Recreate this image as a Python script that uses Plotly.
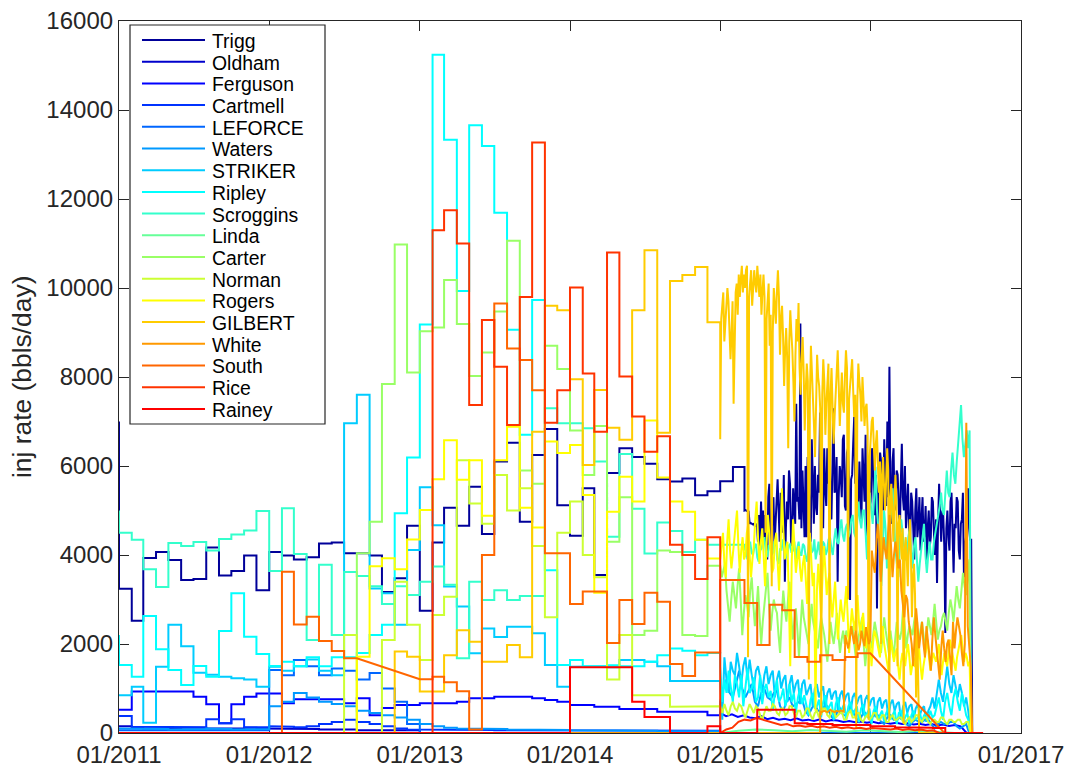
import pandas as pd
import plotly.graph_objects as go

# ---------------- data (bbls/day) ----------------
NAMES = ["Trigg", "Oldham", "Ferguson", "Cartmell", "LEFORCE", "Waters", "STRIKER",
         "Ripley", "Scroggins", "Linda", "Carter", "Norman", "Rogers", "GILBERT",
         "White", "South", "Rice", "Rainey"]

TRIGG_FIRST = 7000
TRIGG_M = [3240, 2520, 3930, 4070, 3890, 3440, 3460, 4170, 3540, 3640, 3990, 3210,
           4070, 3990, 3900, 3950, 4260, 4280, 4040, 4040, 3990, 3170, 3480, 4660,
           2750, 4280, 5060, 4660, 5535, 4470, 6100, 6520, 4750, 6250, 6830, 5120,
           4430, 5500, 3550, 5840, 6400, 6200, 6050, 5700, 5650, 5720, 5340, 5430,
           5660, 5980]
TRIGG_D = [5000, 5010, 4990, 5000, 4980, 4700, 4720, 4700, 4690, 4700, 4650, 4660, 4700, 4300, 4900, 4200, 5200, 4400, 5000, 4300,
           4900, 4100, 3900, 5300, 5600, 4400, 4100, 5000, 5300, 4200, 4600, 5200, 5700, 4600, 4300, 5400, 5000, 4500, 5800, 3400,
           4600, 5200, 4800, 5900, 5600, 4300, 4200, 5500, 5100, 4700, 7400, 5200, 5300, 4800, 9200, 4600, 5900, 5100, 4400, 6000,
           4400, 6200, 5300, 5000, 4300, 6600, 5700, 4700, 6000, 5100, 4900, 5800, 5400, 7200, 5200, 5600, 4600, 6400, 5500, 5100,
           6400, 5600, 6900, 5200, 4800, 6100, 7300, 5400, 5500, 6200, 3400, 5300, 6000, 5800, 5300, 6600, 6700, 5100, 5000, 6300,
           6400, 5500, 2990, 5700, 5800, 6500, 7100, 5600, 6300, 5200, 4900, 6100, 5600, 4800, 6400, 5900, 5200, 6700, 4300, 5600,
           6000, 5100, 5200, 6400, 6300, 5000, 4900, 5800, 2800, 5400, 5700, 6300, 6100, 5200, 5000, 6600, 5600, 5100, 7000, 5300,
           8230, 5200, 4700, 6100, 6400, 5000, 5200, 5900, 5800, 4700, 4400, 5600, 6500, 5300, 5000, 6000, 4600, 5100, 5600, 4500,
           4300, 5400, 5200, 4600, 3900, 5000, 5500, 4400, 4700, 5300, 4100, 4800, 5300, 4300, 4500, 5100, 3800, 4600, 5000, 4200,
           4400, 5300, 5200, 4500, 4000, 4800, 3370, 4700, 5600, 4900, 4300, 5000, 4900, 4200, 2250, 4600, 5000, 4400, 4100, 5200,
           5400, 4500, 3600, 4700, 4600, 5300, 5200, 4100, 3900, 4700, 4800, 5400, 3500, 4200, 4400, 5000, 5500, 4600, 4340, 4340,
           0]

OLDHAM_M = [150, 120, 100, 100, 100, 120, 120, 100, 100, 100, 120, 100,
            100, 100, 90, 90, 80, 80, 80, 60, 60, 60, 60, 60]

FERGUSON_M = [520, 930, 930, 930, 930, 930, 815, 645, 218, 645, 815, 890,
              890, 670, 760, 760, 760, 760, 670, 780, 400, 560, 630, 630,
              670, 670, 670, 700, 780, 780, 815, 815, 815, 780, 740, 700,
              630, 630, 590, 590, 540, 540, 540, 480, 480, 480, 480, 400]
FERGUSON_D = [450, 380, 420, 360, 400, 350, 330, 380, 310, 340, 300, 320, 290, 330, 280,
              300, 270, 310, 260, 290, 280, 250, 270, 240, 260, 230, 250, 220, 240, 210,
              230, 200, 220, 190, 210, 180, 200, 170, 190, 160, 180, 150, 0]

CARTMELL_M = [380, 140, 130, 130, 140, 130, 130, 310, 220, 310, 130, 130,
              150, 140, 130, 150, 200, 250, 300, 250, 200, 150, 100, 80,
              80, 80, 70, 70, 70, 70, 60, 60, 60, 60, 60, 60,
              60, 60, 60, 50, 50, 50, 50, 50, 50, 50, 50, 50]

LEFORCE_M = [60, 60, 60, 60, 60, 60, 60, 60, 60, 60, 60, 60,
             1415, 1300, 1640, 1500, 1300, 1450, 1400, 1200, 1350, 1000, 700, 200]

WATERS_M = [100, 100, 90, 90, 80, 80, 90, 100, 90, 80, 80, 90,
            600, 700, 900, 800, 700, 650, 600, 500, 450, 400, 350, 300,
            200, 150, 120, 100, 100, 90, 90, 80, 80, 80, 70, 70,
            60, 60, 60, 50, 50, 50, 50, 40, 40, 40, 40, 40]
WATERS_D = [700, 1000, 1200, 900, 800, 1100, 1400, 1000, 800, 950, 1100, 700, 600, 900, 1000, 800, 750, 900, 950, 600,
            500, 700, 800, 600, 650, 700, 750, 500, 400, 550, 650, 500, 500, 600, 600, 400, 300, 450, 550, 400,
            400, 500, 500, 350, 250, 400, 450, 350, 350, 400, 400, 250, 200, 350, 400, 300, 300, 350, 350, 200,
            150, 250, 300, 250, 250, 300, 300, 200, 100, 200, 250, 200, 200, 250, 250, 150, 100, 150, 200, 0]

STRIKER_M = [850, 1040, 230, 1490, 2430, 1950, 1355, 1310, 1265, 1230, 1200, 1040,
             1490, 1400, 1500, 1650, 1400, 1300, 6960, 7600, 3250, 3140, 2430, 4110,
             5520, 4670, 3290, 2840, 1790, 2350, 2160, 2390, 2390, 2240, 1530, 1040,
             1490, 1500, 1500, 1480, 1640, 1640, 1600, 1500, 1170, 1170, 1170, 1170]
STRIKER_D = [1170, 300, 1700, 1200, 900, 1600, 1400, 1300, 1800, 1500, 1100, 1500, 1700, 1200, 1650, 1300, 1000, 1400, 1500, 1250,
             900, 1300, 1500, 1100, 1300, 1400, 800, 1200, 1400, 1000, 1200, 1300, 700, 1100, 1300, 900, 1100, 1200, 650, 1100,
             1200, 850, 1000, 1100, 600, 1000, 1100, 800, 950, 1050, 550, 900, 1000, 750, 900, 950, 500, 850, 950, 700,
             850, 900, 450, 800, 900, 650, 800, 850, 400, 750, 850, 600, 750, 800, 350, 700, 800, 550, 700, 750,
             350, 650, 750, 500, 650, 700, 300, 600, 700, 450, 600, 650, 300, 550, 650, 400, 550, 600, 250, 500,
             600, 800, 550, 900, 1200, 900, 700, 1100, 1500, 1100, 900, 1300, 1000, 800, 1100, 900, 600, 800, 500, 0]

RIPLEY_FIRST = 2200
RIPLEY_M = [1530, 1265, 2630, 1880, 1415, 1080, 1505, 1265, 2290, 3140, 2165, 1775,
            1505, 1600, 1500, 1700, 1500, 1700, 1700, 1800, 2200, 2430, 4940, 6190,
            9180, 15240, 13330, 9930, 13660, 13190, 11690, 9060, 6700, 9730, 3660, 1530,
            1640, 1500, 1500, 1520, 1500, 1500, 1600, 1750, 1900, 1850, 1750, 1800]
RIPLEY_D = [1500, 700, 1200, 900, 1400, 1000, 700, 1300, 1100, 800, 1300, 600, 1100, 1450, 900, 1000, 1250, 700, 800, 1300,
            650, 1000, 1100, 800, 950, 500, 900, 1200, 700, 800, 1000, 600, 800, 1100, 700, 900, 450, 800, 1000, 650,
            850, 600, 400, 750, 900, 550, 600, 750, 350, 700, 850, 500, 600, 700, 300, 650, 800, 450, 550, 650,
            300, 600, 700, 400, 500, 600, 250, 550, 650, 350, 450, 550, 200, 500, 600, 300, 400, 500, 250, 450,
            550, 300, 400, 500, 200, 450, 500, 250, 350, 450, 200, 400, 500, 300, 350, 450, 250, 400, 450, 300,
            500, 350, 400, 600, 800, 500, 300, 700, 900, 600, 400, 800, 1000, 700, 500, 900, 600, 400, 300, 0]

SCROGGINS_FIRST = 5000
SCROGGINS_M = [4500, 4340, 3680, 3280, 4270, 4200, 4290, 4100, 4360, 4460, 4550, 4990,
               3640, 5050, 4020, 2090, 3780, 2200, 3620, 3530, 3300, 2900, 3300, 3100,
               3400, 3740, 3330, 1680, 3400, 2990, 3210, 2990, 3080, 3080, 7300, 6960,
               6960, 6850, 6100, 4410, 6270, 5040, 4035, 4730, 4540, 4070, 4340, 4230,
               4230, 4230]
SCROGGINS_D = [4100, 4250, 3900, 4150, 4300, 4050, 4000, 4200, 4250, 3950, 3850, 4100, 4150, 4300, 4400, 4050, 3950, 4200, 4200, 4000,
               4050, 4300, 4350, 3900, 3800, 4150, 4100, 4350, 4300, 3950, 3950, 4200, 4250, 4050, 4100, 4300, 3900, 4150, 4300, 4000,
               4000, 4250, 4200, 3950, 3850, 4200, 4400, 4050, 4100, 4350, 3900, 4100, 4300, 4000, 4050, 4300, 4250, 4000, 4100, 4350,
               4400, 4150, 4000, 4350, 4600, 4300, 4250, 4600, 4800, 4450, 4300, 4600, 4700, 4400, 4500, 4800, 4900, 4500, 4400, 4700,
               5200, 4800, 4600, 5000, 5000, 4500, 3900, 4900, 5400, 5000, 4700, 5300, 5980, 5000, 4500, 4100, 3300, 4400, 5000, 4600,
               3700, 4300, 4600, 5000, 5500, 4700, 4100, 3800, 3500, 4300, 4800, 4500, 4200, 3900, 3900, 4400, 4600, 4000, 3700, 4200,
               4400, 3900, 3400, 3800, 4100, 4500, 4700, 4000, 3600, 4000, 4300, 3900, 3900, 4300, 4500, 4700, 4800, 5100, 5400, 5000,
               4900, 5500, 5900, 5400, 5300, 5900, 6300, 5800, 5600, 6100, 6500, 6900, 7370, 6600, 6200, 6500, 6800, 6400, 6800, 0]

LINDA_D = [0, 50, 80, 60, 40, 70, 50, 30, 60, 40, 20, 50, 30, 0]

CARTER_M = [4040, 4750, 7840, 10980, 8100, 9030, 9110, 10180, 9190, 8020, 8550, 9470,
            11060, 5900, 5600, 8700, 8180, 6800, 5800, 6900, 4300, 5300, 2200, 2300,
            4100, 4070, 2200, 2180, 3760]
CARTER_D = [3760, 3500, 3650, 3800, 3200, 2800, 2500, 3000, 3400, 3100, 2800, 3300, 3700, 3000, 2200, 2700, 3100, 2900, 2600, 3200,
            3500, 2900, 2400, 2800, 3300, 2600, 2000, 2500, 2900, 3300, 3600, 2900, 2300, 2700, 3000, 2800, 2700, 2200, 1800, 2600,
            3200, 2800, 2500, 3000, 3400, 2700, 2100, 2500, 2800, 2300, 1700, 2400, 3000, 2600, 2400, 2200, 2000, 2500, 2900, 2500,
            2300, 2100, 1900, 2300, 2600, 2400, 2200, 1900, 1600, 2100, 2500, 2200, 2000, 2300, 2700, 2200, 1800, 2100, 2300, 2000,
            2300, 2200, 2100, 2300, 2400, 2000, 1700, 2000, 2200, 2400, 2600, 2000, 1500, 1900, 2300, 2100, 1900, 2200, 2500, 2300,
            2100, 1900, 1800, 2200, 2600, 2300, 2000, 1800, 2300, 2000, 1700, 2100, 2500, 2200, 2100, 2300, 2800, 2400, 1900, 2200,
            2400, 2300, 2200, 2500, 2700, 2300, 2000, 2300, 2500, 2200, 1800, 2200, 2600, 2400, 2200, 2500, 2900, 2500, 2100, 2300,
            2400, 2600, 2700, 2500, 2300, 2700, 3000, 2800, 2500, 2900, 3300, 3000, 2800, 3200, 3600, 3300, 3100, 3500, 3900, 0]

NORMAN_M = [2200, 0, 0, 2090, 3400, 2430, 1640, 2650, 3060, 6130, 5160, 4700,
            5800, 5000, 5500, 4200, 2600, 4500, 5200, 4000, 3500, 1200, 2200, 850,
            850, 850, 590, 590, 600, 600]
NORMAN_D = [600, 450, 650, 500, 400, 600, 700, 550, 500, 650, 600, 450, 350, 500, 650, 550, 450, 600, 550, 400,
            300, 450, 600, 500, 500, 650, 600, 450, 400, 550, 550, 400, 450, 600, 600, 450, 350, 500, 500, 350,
            400, 550, 550, 400, 300, 450, 500, 350, 450, 550, 550, 400, 350, 500, 500, 350, 400, 450, 450, 300,
            300, 450, 500, 350, 350, 450, 450, 300, 250, 350, 400, 300, 350, 450, 450, 300, 300, 400, 400, 250,
            250, 350, 400, 300, 300, 350, 350, 250, 200, 300, 350, 250, 300, 400, 400, 300, 250, 350, 350, 250,
            200, 300, 300, 250, 250, 350, 350, 250, 200, 300, 300, 250, 250, 300, 300, 200, 200, 250, 250, 0]

ROGERS_M = [1715, 3750, 3925, 3680, 4350, 5010, 5700, 6580, 5690, 6130, 4880, 6130,
            6880, 5060, 4620, 6550, 6290, 6470, 5350, 3150, 4970, 5760, 5200, 7020,
            5740, 5200, 4970, 4340, 3920]
ROGERS_D = [3900, 4200, 4500, 3800, 3500, 4300, 4800, 4100, 3700, 4000, 4300, 4700, 5000, 4200, 3600, 4100, 4400, 3900, 4000, 4500,
            4700, 4000, 3500, 3900, 4200, 4800, 5200, 4400, 3800, 4300, 4600, 4000, 3300, 4200, 4900, 4500, 4100, 3600, 3700, 4300,
            4500, 3800, 3200, 4000, 5500, 4600, 3900, 4100, 4300, 3000, 1500, 3800, 4800, 4200, 3600, 3900, 4200, 3700, 3400, 3800,
            4000, 3500, 2900, 3700, 4500, 3900, 3300, 3600, 500, 3200, 3800, 3300, 2700, 3500, 4200, 3700, 3100, 3400, 3600, 3000,
            2600, 3000, 3400, 2700, 2100, 2600, 3000, 2700, 2500, 2900, 3300, 2600, 1800, 2400, 2800, 2500, 2300, 2700, 3100, 2500,
            2200, 2500, 2700, 2200, 1900, 2300, 2500, 2000, 1500, 2000, 2300, 2200, 2000, 1800, 1700, 2100, 2400, 2000, 1800, 1600,
            1400, 1800, 2100, 1800, 1600, 1800, 1900, 1500, 1200, 1600, 1800, 1600, 1500, 1800, 2000, 1700, 1300, 1500, 1700, 1500,
            1500, 1700, 1900, 1500, 1200, 1500, 1700, 1900, 2100, 1700, 1400, 1600, 1800, 1700, 1600, 1800, 2000, 1600, 1300, 1600,
            1800, 1600, 1500, 1800, 2100, 1900, 1700, 1500, 1400, 1700, 1900, 2000, 2200, 1900, 1600, 1800, 1700, 1500, 1600, 0]

GILBERT_M = [1830, 1715, 930, 930, 1750, 2310, 2050, 1600, 1600, 1980, 1700, 6770,
             9600, 9500, 7950, 6020, 7710, 6860, 6590, 9500, 10850, 6750, 10160, 10290,
             10470, 9230]
GILBERT_D = [6600, 9300, 9600, 9900, 8800, 9200, 9500, 10000, 9700, 9200, 8400, 9000, 9700, 7400, 8600, 9900, 10100, 9400, 10300, 9800,
             10200, 10500, 9900, 10300, 10000, 10400, 10500, 1700, 9800, 10200, 10400, 9600, 10000, 10400, 10100, 9900, 10500, 10200, 9800, 10300,
             9400, 9900, 10300, 9800, 4500, 9300, 9800, 10100, 8700, 9400, 3300, 9000, 10000, 9500, 9200, 9900, 10400, 9800, 8500, 9300,
             9600, 8900, 7800, 8600, 9100, 8400, 6400, 8800, 9500, 9000, 8600, 7900, 7000, 8500, 9300, 8800, 9660, 8200, 7600, 8400,
             8900, 8100, 6800, 7700, 8300, 7900, 1200, 7500, 8700, 8100, 7200, 6900, 6200, 7800, 8500, 8000, 7800, 7300, 400, 7600,
             8400, 7900, 6700, 7400, 7900, 8300, 2000, 7600, 8200, 7500, 6500, 7100, 7700, 8000, 8600, 7800, 6900, 7500, 8100, 7400,
             7200, 8000, 8600, 8200, 3000, 7500, 7800, 8300, 8400, 7700, 7100, 7600, 100, 7400, 8300, 7900, 7600, 7000, 8000, 7500,
             6900, 7300, 7400, 6800, 300, 6200, 6600, 7000, 7100, 6300, 5900, 6500, 6800, 6000, 5400, 6100, 2000, 5800, 6200, 5500,
             5000, 5700, 6400, 5900, 300, 5300, 5600, 5000, 4300, 5100, 5800, 5200, 1500, 4700, 4900, 4400, 3900, 4600, 200, 4100,
             4400, 3900, 3300, 4200, 4800, 4000, 2600, 3500, 3800, 3100, 800, 2500, 1500, 0]

WHITE_D = [480, 470, 490, 500, 480, 470, 500, 520, 490, 480, 470, 500, 490, 480, 510, 490, 480,
           2200, 2000, 1900, 2100, 2400, 2200, 2000, 2300, 2100, 1860, 2000, 2300, 2100, 1950, 2380, 2200, 2000, 2100,
           4100, 3800, 3600, 4200, 4700, 4300, 3400, 3900, 4400, 4100, 3900, 4500, 4900, 4200, 3500, 4000, 4300, 4000, 3700, 3900,
           3200, 2900, 2600, 3100, 3000, 2500, 2200, 2000, 1500, 2300, 2800, 2400, 1900, 2200, 2500, 2000, 1700, 2400,
           2000, 1700, 1400, 2100, 2600, 2200, 1800, 1500, 1200, 1900, 2300, 1900, 1600, 2000, 2100, 1700, 1300, 2500,
           1900, 2300, 2600, 2400, 2200, 1800, 1500, 2000, 6970, 2400, 2000, 1500, 0]

SOUTH_M = [3625, 2440, 2610, 2070, 1840, 1680, None, None, None, None, None,
           1210, 1265, 1140, 940, 80, 4000, 9650, 8640, 8380, 7700, 4040, 4040,
           2900, 3180, 3180, 2020, 2990, 2450, 3150, 2950, 1550, 1280, 1810, 1810,
           3440, 3440, 2920, 1980, 2880, 2760, 1710, 1600, 1750, 1640, 1710, 1790]
SOUTH_LAST = 0

RICE_M = [11300, 11750, 11000, 7370, 9280, 8230, 6920, 9800, 13270, 6970, 7700,
          10010, 8080, 6770, 10800, 8010, 7110, 6320, 6670, 4230, 4000, 3460, 4400]
RICE_D = [0, 80, 120, 250, 300, 280, 340, 300, 250, 220, 180, 200, 150, 170, 140, 160,
          130, 150, 120, 140, 110, 130, 100, 120, 90, 110, 100, 90, 80, 100, 70, 90,
          60, 80, 50, 60, 0]

RAINEY_M = [1480, 1480, 1480, 1480, 1480, 700, 360, 360, 0, 0, 0, 150,
            0, 0, 0, 520, 520, 520, 220, 200, 200, 180, 180, 180,
            150, 150, 130, 130, 120, 110, 0, 0, 0]

X_TICKS = ["2011-01-01", "2012-01-01", "2013-01-01", "2014-01-01",
           "2015-01-01", "2016-01-01", "2017-01-01"]

# ---------------- helpers ----------------
T_START = pd.Timestamp("2011-01-01")
T_END = pd.Timestamp("2016-09-20")


def monthly(start, values):
    """Monthly values drawn as stairs: each value holds for its whole month."""
    t0 = pd.Timestamp(start)
    return [(t0 + pd.DateOffset(months=i), t0 + pd.DateOffset(months=i + 1), v)
            for i, v in enumerate(values)]


def sampled(start, end, values):
    """Daily-type readings: one point per reading, joined point to point."""
    a, b = pd.Timestamp(start), pd.Timestamp(end)
    dt = (b - a) / len(values)
    return [(a + i * dt, a + i * dt, v) for i, v in enumerate(values)]


def point(date, value):
    t = pd.Timestamp(date)
    return [(t, t, value)]


def path(segments):
    segs = [s for s in segments if s[2] is not None]
    xs, ys = [], []
    if segs[0][0] > T_START:
        xs += [T_START, segs[0][0]]
        ys += [0, 0]
    for a, b, v in segs:
        if a == b:
            xs.append(a)
            ys.append(v)
        else:
            xs += [a, b]
            ys += [v, v]
    if segs[-1][1] < T_END:
        xs += [segs[-1][1], T_END]
        ys += [0, 0]
    return xs, ys


SERIES = {
    "Trigg": point("2011-01-01", TRIGG_FIRST) + monthly("2011-01", TRIGG_M)
             + sampled("2015-03-01", "2016-09-07", TRIGG_D),
    "Oldham": monthly("2011-01", OLDHAM_M),
    "Ferguson": monthly("2011-01", FERGUSON_M) + sampled("2015-01-01", "2016-09-05", FERGUSON_D),
    "Cartmell": monthly("2011-01", CARTMELL_M),
    "LEFORCE": monthly("2011-01", LEFORCE_M),
    "Waters": monthly("2011-01", WATERS_M) + sampled("2015-01-01", "2016-09-05", WATERS_D),
    "STRIKER": monthly("2011-01", STRIKER_M) + sampled("2015-01-01", "2016-09-05", STRIKER_D),
    "Ripley": point("2011-01-01", RIPLEY_FIRST) + monthly("2011-01", RIPLEY_M)
              + sampled("2015-01-01", "2016-09-05", RIPLEY_D),
    "Scroggins": point("2011-01-01", SCROGGINS_FIRST) + monthly("2011-01", SCROGGINS_M)
                 + sampled("2015-03-01", "2016-09-05", SCROGGINS_D),
    "Linda": sampled("2015-01-01", "2016-09-05", LINDA_D),
    "Carter": monthly("2012-08", CARTER_M) + sampled("2015-01-01", "2016-09-05", CARTER_D),
    "Norman": monthly("2012-07", NORMAN_M) + sampled("2015-01-01", "2016-09-05", NORMAN_D),
    "Rogers": monthly("2012-08", ROGERS_M) + sampled("2015-01-01", "2016-09-05", ROGERS_D),
    "GILBERT": monthly("2012-11", GILBERT_M) + sampled("2015-01-01", "2016-05-01", GILBERT_D),
    "White": sampled("2015-09-01", "2016-09-08", WHITE_D),
    "South": monthly("2012-02", SOUTH_M) + point("2016-06-29", SOUTH_LAST),
    "Rice": monthly("2013-02", RICE_M) + sampled("2015-01-01", "2016-07-01", RICE_D),
    "Rainey": monthly("2014-01", RAINEY_M),
}

# jet(20) colormap, first 18 entries
COLORS = ["rgb(0,0,153)", "rgb(0,0,204)", "rgb(0,0,255)", "rgb(0,51,255)",
          "rgb(0,102,255)", "rgb(0,153,255)", "rgb(0,204,255)", "rgb(0,255,255)",
          "rgb(51,255,204)", "rgb(102,255,153)", "rgb(153,255,102)", "rgb(204,255,51)",
          "rgb(255,255,0)", "rgb(255,204,0)", "rgb(255,153,0)", "rgb(255,102,0)",
          "rgb(255,51,0)", "rgb(255,0,0)"]

fig = go.Figure()
for name, color in zip(NAMES, COLORS):
    xs, ys = path(SERIES[name])
    fig.add_trace(go.Scatter(x=xs, y=ys, mode="lines", name=name,
                             line=dict(color=color, width=2), showlegend=False))

# ---------------- layout ----------------
W, H = 1073, 767
L, R, T, B = 119, 1021, 21, 733
FONT = "Liberation Sans, Arial, Helvetica, sans-serif"
INK = "#262626"


def px(xp):
    return (xp - L) / (R - L)


def py(yp):
    return (B - yp) / (B - T)


shapes = [dict(type="rect", xref="paper", yref="paper", x0=px(130), x1=px(325),
               y0=py(424), y1=py(25), fillcolor="white",
               line=dict(color=INK, width=1.2), layer="above")]
annotations = []
ROW = 21.7
for k, (name, color) in enumerate(zip(NAMES, COLORS)):
    yc = 40 + ROW * k
    shapes.append(dict(type="line", xref="paper", yref="paper", x0=px(142), x1=px(205),
                       y0=py(yc), y1=py(yc), line=dict(color=color, width=2), layer="above"))
    annotations.append(dict(xref="paper", yref="paper", x=px(210), y=py(yc + 1),
                            text=name, showarrow=False, xanchor="left", yanchor="middle",
                            font=dict(family=FONT, size=19.4, color="#000000")))

annotations.append(dict(xref="paper", yref="paper", x=px(22), y=0.5,
                        text="inj rate (bbls/day)", textangle=-90, showarrow=False,
                        xanchor="center", yanchor="middle",
                        font=dict(family=FONT, size=26.4, color=INK)))

fig.update_layout(
    width=W, height=H,
    margin=dict(l=L, r=W - R, t=T, b=H - B, pad=0, autoexpand=False),
    paper_bgcolor="white", plot_bgcolor="white",
    font=dict(family=FONT, size=24, color=INK),
    shapes=shapes, annotations=annotations,
    xaxis=dict(type="date", range=["2011-01-01", "2017-01-01"], tickvals=X_TICKS,
               tickformat="%m/%Y", ticks="inside", ticklen=10, tickwidth=1,
               tickcolor=INK, showline=True, linecolor=INK, linewidth=1.2,
               mirror="ticks", showgrid=False, zeroline=False, automargin=False,
               tickfont=dict(family=FONT, size=24, color=INK), layer="below traces"),
    yaxis=dict(range=[0, 16000], dtick=2000, tickformat="d", ticks="inside",
               ticklen=10, tickwidth=1, tickcolor=INK, showline=True, linecolor=INK,
               linewidth=1.2, mirror="ticks", showgrid=False, zeroline=False,
               automargin=False,
               tickfont=dict(family=FONT, size=24, color=INK), layer="below traces"),
)

fig.write_html("out.html")
